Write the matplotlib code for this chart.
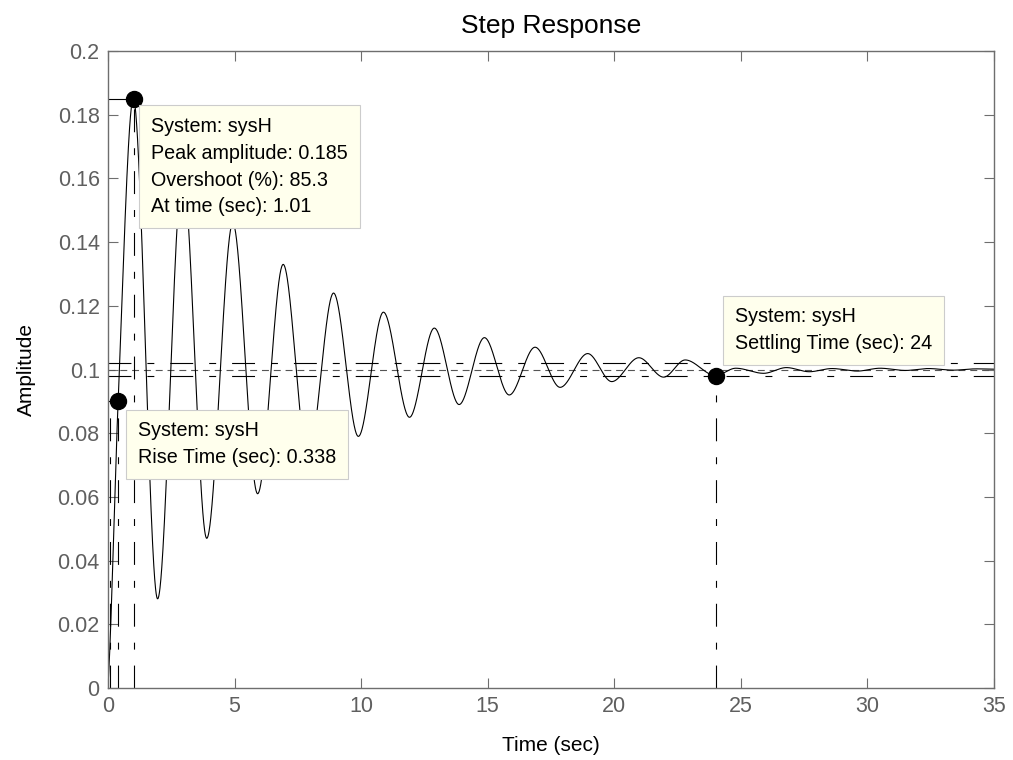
import numpy as np
import matplotlib
matplotlib.use("Agg")
import matplotlib.pyplot as plt

plt.rcParams['font.family'] = ['Liberation Sans', 'DejaVu Sans']
plt.rcParams['lines.scale_dashes'] = False

# step response samples (time in sec, amplitude)
t_pts = [0.0, 0.06, 0.40, 1.0, 1.96, 2.95, 3.90, 4.93, 5.91, 6.92, 7.90,
         8.91, 9.89, 10.88, 11.91, 12.89, 13.87, 14.87, 15.85, 16.87, 17.86,
         18.95, 19.90, 20.97, 21.95, 22.80, 24.0, 24.8, 25.9, 26.8, 27.7,
         28.6, 29.6, 30.5, 31.5, 32.4, 33.4, 34.3, 35.0]
y_pts = [0.0, 0.01, 0.09, 0.185, 0.028, 0.162, 0.047, 0.146, 0.061, 0.133, 0.072,
         0.124, 0.079, 0.118, 0.085, 0.113, 0.089, 0.110, 0.092, 0.107, 0.0944,
         0.105, 0.0962, 0.1037, 0.0976, 0.103, 0.0981, 0.1004, 0.0988, 0.1006, 0.0993,
         0.1003, 0.0995, 0.1004, 0.0997, 0.1003, 0.0998, 0.1002, 0.1001]

final_value = 0.1
band = [0.098, 0.102]

peak_t, peak_y = 1.01, 0.185
overshoot = 85.3
rise_t10, rise_t90, rise_y = 0.06, 0.40, 0.09
rise_time = 0.338
settle_t, settle_y = 24.0, 0.098

x_ticks = [0, 5, 10, 15, 20, 25, 30, 35]
y_ticks = [0, 0.02, 0.04, 0.06, 0.08, 0.1, 0.12, 0.14, 0.16, 0.18, 0.2]


def pchip(x, y, xs):
    x = np.asarray(x, float)
    y = np.asarray(y, float)
    h = np.diff(x)
    d = np.diff(y) / h
    m = np.zeros_like(y)
    m[0], m[-1] = d[0], d[-1]
    for k in range(1, len(x) - 1):
        if d[k - 1] * d[k] > 0:
            w1 = 2 * h[k] + h[k - 1]
            w2 = h[k] + 2 * h[k - 1]
            m[k] = (w1 + w2) / (w1 / d[k - 1] + w2 / d[k])
    idx = np.clip(np.searchsorted(x, xs) - 1, 0, len(h) - 1)
    s = (xs - x[idx]) / h[idx]
    h00 = 2 * s**3 - 3 * s**2 + 1
    h10 = s**3 - 2 * s**2 + s
    h01 = -2 * s**3 + 3 * s**2
    h11 = s**3 - s**2
    return h00 * y[idx] + h10 * h[idx] * m[idx] + h01 * y[idx + 1] + h11 * h[idx] * m[idx + 1]


t = np.linspace(0, 35, 3000)
y = pchip(t_pts, y_pts, t)

fig = plt.figure(figsize=(10.13, 7.6), dpi=100)
ax = fig.add_axes([108 / 1013, 72 / 760, 886 / 1013, 637 / 760])

dashdot = (16.5, 11.5, 5, 11.5)
kw = dict(color='black', lw=0.8, dashes=dashdot)

# steady state and 2% settling band
ax.axhline(final_value, color='#555555', lw=0.8, dashes=(5, 3.5))
for b in band:
    ax.axhline(b, **kw)

ax.plot(t, y, color='black', lw=0.8)

# peak response marker
ax.plot([0, peak_t], [peak_y, peak_y], **kw)
ax.plot([peak_t, peak_t], [0, peak_y], **kw)
# rise time markers
ax.plot([0, rise_t90], [rise_y, rise_y], **kw)
ax.plot([rise_t10, rise_t10], [0, rise_y], **kw)
ax.plot([rise_t90, rise_t90], [0, rise_y], **kw)
# settling time marker
ax.plot([settle_t, settle_t], [0, settle_y], **kw)

ax.plot([peak_t, rise_t90, settle_t], [peak_y, rise_y, settle_y], 'o',
        color='black', markersize=11.5, zorder=5)

box = dict(boxstyle='square,pad=0.6', facecolor='#ffffed', edgecolor='#cccccc', lw=0.8)
tip_kw = dict(fontsize=14.2, ha='left', va='top', linespacing=1.52, bbox=box, zorder=10)
ax.text(1.71, 0.1793,
        "System: sysH\nPeak amplitude: %.3f\nOvershoot (%%): %.1f\nAt time (sec): %.2f"
        % (peak_y, overshoot, peak_t), **tip_kw)
ax.text(1.19, 0.0837, "System: sysH\nRise Time (sec): %.3f" % rise_time, **tip_kw)
ax.text(24.77, 0.1195, "System: sysH\nSettling Time (sec): %g" % settle_t, **tip_kw)

ax.set_xlim(0, 35)
ax.set_ylim(0, 0.2)
ax.set_xticks(x_ticks)
ax.set_yticks(y_ticks)
ax.set_yticklabels(['%g' % v for v in y_ticks])
ax.tick_params(direction='in', length=7, width=0.8, colors='#6e6e6e',
               labelcolor='#5f5f5f', labelsize=15.5, top=True, right=True, pad=6)
for sp in ax.spines.values():
    sp.set_color('#6e6e6e')
    sp.set_linewidth(1.0)

ax.set_title('Step Response', fontsize=19, pad=13)
ax.set_xlabel('Time (sec)', fontsize=15)
ax.set_ylabel('Amplitude', fontsize=15)
ax.xaxis.set_label_coords(0.5, -0.075)
ax.yaxis.set_label_coords(-0.081, 0.5)

fig.savefig('out.png', dpi=100)
